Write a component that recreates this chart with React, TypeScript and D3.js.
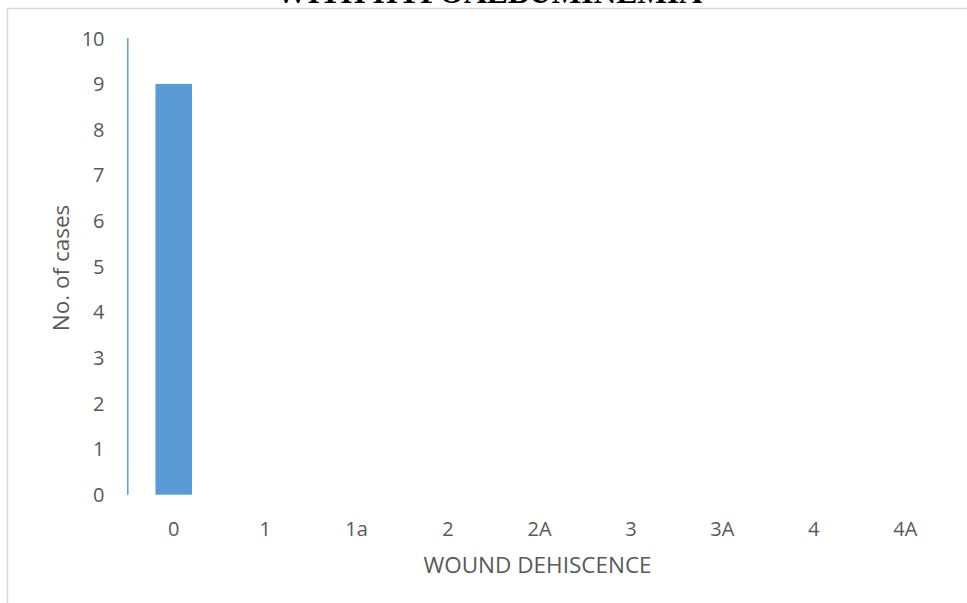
import React from "react";
import * as d3 from "d3";

const categories = ["0", "1", "1a", "2", "2A", "3", "3A", "4", "4A"];
const values = [9, 0, 0, 0, 0, 0, 0, 0, 0];
const yTicks = [0, 1, 2, 3, 4, 5, 6, 7, 8, 9, 10];
const titleText = "WITH HYPOALBUMINEMIA";
const xTitle = "WOUND DEHISCENCE";
const yTitle = "No. of cases";

const W = 967;
const H = 603;
const FONT = "'Open Sans', sans-serif";
const TXT = "#595959";

export default function App() {
  const x = d3
    .scaleBand<string>()
    .domain(categories)
    .range([128, 951])
    .paddingInner(0.6)
    .paddingOuter(0.3);
  const y = d3.scaleLinear().domain([0, 10]).range([494.7, 38.3]);

  return (
    <svg
      width={W}
      height={H}
      style={{ position: "absolute", left: 0, top: 0, overflow: "hidden", background: "#fff" }}
    >
      <rect x={0} y={0} width={W} height={H} fill="#fff" />
      {/* title (clipped at the top edge, as in the reference) */}
      <text
        x={489}
        y={3}
        textAnchor="middle"
        fontFamily="'Liberation Serif', serif"
        fontWeight="bold"
        fontSize={31.5}
        fill="#000"
      >
        {titleText}
      </text>
      {/* chart frame */}
      <rect x={7.5} y={8.5} width={W + 20} height={H + 20} fill="none" stroke="#d9d9d9" strokeWidth={1.5} />

      {/* bars */}
      {categories.map((c, i) => (
        <rect
          key={c}
          x={x(c)!}
          y={y(values[i])}
          width={x.bandwidth()}
          height={y(0) - y(values[i])}
          fill="#5b9bd5"
        />
      ))}

      {/* y axis line */}
      <line x1={127.8} x2={127.8} y1={y(10)} y2={y(0)} stroke="#5b9bd5" strokeWidth={1.5} />

      {/* y tick labels */}
      {yTicks.map((t) => (
        <text
          key={t}
          x={104.5}
          y={y(t)}
          dy="0.36em"
          textAnchor="end"
          fontFamily={FONT}
          fontSize={20}
          fill={TXT}
        >
          {t}
        </text>
      ))}

      {/* x tick labels */}
      {categories.map((c) => (
        <text
          key={c}
          x={x(c)! + x.bandwidth() / 2}
          y={535.5}
          textAnchor="middle"
          fontFamily={FONT}
          fontSize={20}
          fill={TXT}
        >
          {c}
        </text>
      ))}

      {/* axis titles */}
      <text
        x={537.5}
        y={573}
        textAnchor="middle"
        fontFamily={FONT}
        fontSize={22.5}
        fill={TXT}
      >
        {xTitle}
      </text>
      <text
        transform={`translate(69,268) rotate(-90)`}
        textAnchor="middle"
        fontFamily={FONT}
        fontSize={22.5}
        fill={TXT}
      >
        {yTitle}
      </text>
    </svg>
  );
}
